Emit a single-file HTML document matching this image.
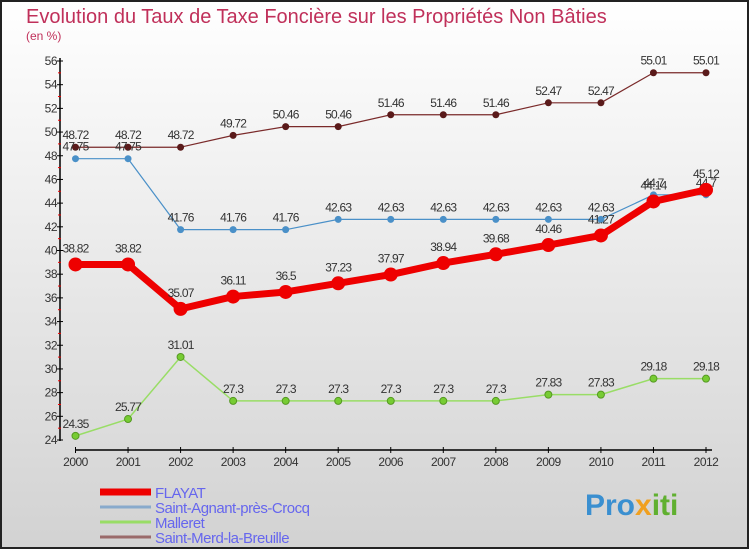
<!DOCTYPE html>
<html><head><meta charset="utf-8"><style>
body{margin:0;width:750px;height:550px;overflow:hidden}
svg{display:block;font-family:"Liberation Sans",sans-serif}
</style></head><body>
<svg id="chart" width="750" height="550">
<defs><linearGradient id="bg" x1="0" y1="0" x2="0" y2="1"><stop offset="0" stop-color="#ffffff"/><stop offset="1" stop-color="#d2d2d2"/></linearGradient></defs>
<rect x="1" y="1" width="747" height="547" fill="url(#bg)" stroke="#222" stroke-width="2"/>
<text x="26" y="23" font-size="20" fill="#c0305a">Evolution du Taux de Taxe Foncière sur les Propriétés Non Bâties</text>
<text x="26" y="40" font-size="12" fill="#c0305a">(en %)</text>
<g id="axes"></g><g id="series"></g><g id="legend"></g>
<text x="585" y="515" font-size="30" font-weight="bold" fill="#3a8fd0">Pro<tspan fill="#f0a020">x</tspan><tspan fill="#60b030">iti</tspan></text>
</svg>
<script>
const years=[2000,2001,2002,2003,2004,2005,2006,2007,2008,2009,2010,2011,2012];
const yTicks=[24,26,28,30,32,34,36,38,40,42,44,46,48,50,52,54,56];
const flayat=[38.82,38.82,35.07,36.11,36.5,37.23,37.97,38.94,39.68,40.46,41.27,44.14,45.12];
const saintAgnant=[47.75,47.75,41.76,41.76,41.76,42.63,42.63,42.63,42.63,42.63,42.63,44.7,44.7];
const malleret=[24.35,25.77,31.01,27.3,27.3,27.3,27.3,27.3,27.3,27.83,27.83,29.18,29.18];
const saintMerd=[48.72,48.72,48.72,49.72,50.46,50.46,51.46,51.46,51.46,52.47,52.47,55.01,55.01];
const names=["FLAYAT","Saint-Agnant-près-Crocq","Malleret","Saint-Merd-la-Breuille"];

const NS="http://www.w3.org/2000/svg";
const x=i=>75.5+i*(706-75.5)/12;
const y=v=>440-(v-24)*(440-61)/32;
function mk(tag,attrs,parent){const e=document.createElementNS(NS,tag);for(const k in attrs)e.setAttribute(k,attrs[k]);parent.appendChild(e);return e;}
const ax=document.getElementById('axes');
let e=mk('line',{x1:60,y1:58,x2:60,y2:441,stroke:'#000','stroke-width':1.5},ax);


e=mk('line',{x1:75,y1:450,x2:712,y2:450,stroke:'#000','stroke-width':1.5},ax);


yTicks.forEach(v=>{
  mk('line',{x1:57,y1:y(v),x2:63,y2:y(v),stroke:'#000'},ax);
  if(v<56)mk('line',{x1:58,y1:y(v+1),x2:61,y2:y(v+1),stroke:'#e00'},ax);
  const t=mk('text',{x:57,y:y(v)+4,'font-size':12,fill:'#333','text-anchor':'end','letter-spacing':'-0.5'},ax);t.textContent=v;
  
  
});
years.forEach((yr,i)=>{
  mk('line',{x1:x(i),y1:447,x2:x(i),y2:453,stroke:'#000'},ax);
  const t=mk('text',{x:x(i),y:466,'font-size':12,fill:'#333','text-anchor':'middle','letter-spacing':'-0.5'},ax);t.textContent=yr;
  
  
});
const sg=document.getElementById('series');
function series(data,color,lw,r,name,labelDy){
  const g=mk('g',{},sg);
  
  
  mk('polyline',{points:data.map((v,i)=>x(i)+','+y(v)).join(' '),fill:'none',stroke:color,'stroke-width':lw,'stroke-linejoin':'round'},g);
  data.forEach((v,i)=>{
    const c=mk('circle',{cx:x(i),cy:y(v),r:r,fill:color},g);
    
    
    const t=mk('text',{x:x(i),y:y(v)-labelDy,'font-size':12,fill:'#333','text-anchor':'middle','letter-spacing':'-0.8'},g);t.textContent=v;
  });
}
series(malleret,'#99dd66',1.5,3.5,'series-malleret',8);
series(saintMerd,'#7a2a2a',1.2,3.5,'series-saint-merd-la-breuille',8);
series(saintAgnant,'#4a90c8',1.2,3.5,'series-saint-agnant-pres-crocq',8);
series(flayat,'#ee0000',7,7,'series-flayat',12);
sg.querySelectorAll('g')[1].querySelectorAll('circle').forEach(c=>c.setAttribute('fill','#5a1a1a'));
sg.querySelectorAll('g')[0].querySelectorAll('circle').forEach(c=>{c.setAttribute('fill','#77cc33');c.setAttribute('stroke','#559922');});
const lg=document.getElementById('legend');
const cols=['#ee0000','#88aacc','#99dd66','#9a6a6a'],widths=[7,3,3,3];
names.forEach((n,i)=>{
  const yy=492+i*15;
  const l=mk('line',{x1:100,y1:yy,x2:151,y2:yy,stroke:cols[i],'stroke-width':widths[i]},lg);
  
  
  const t=mk('text',{x:155,y:yy+6,'font-size':15,fill:'#6666ee','letter-spacing':'-0.5'},lg);t.textContent=n;
  
  
});
</script>
</body></html>
